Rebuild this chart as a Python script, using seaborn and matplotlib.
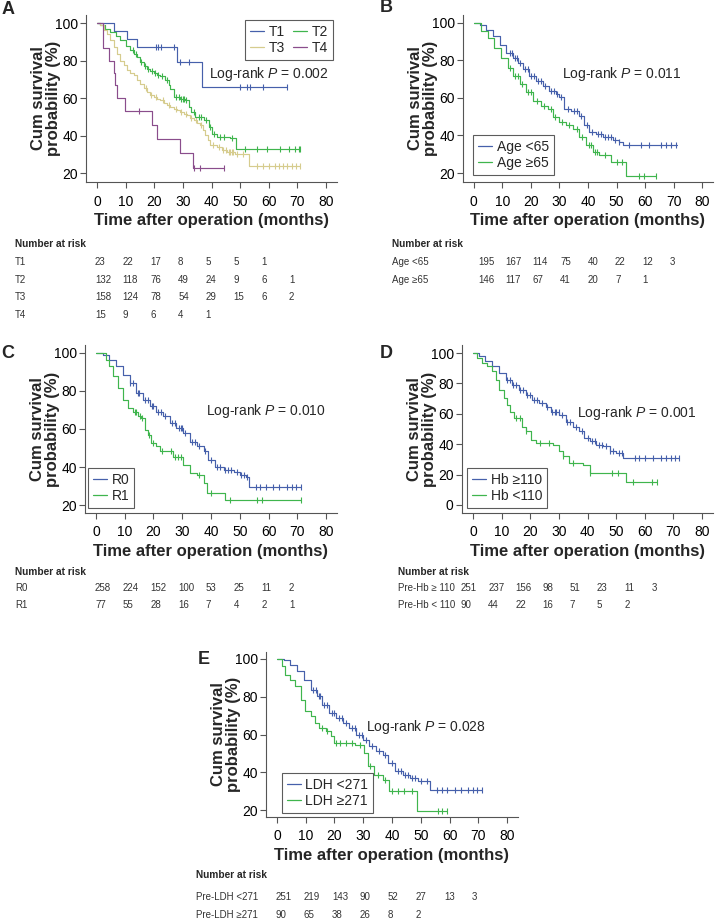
import numpy as np
import pandas as pd
import seaborn as sns
from matplotlib import pyplot as plt
from matplotlib.lines import Line2D

W, H = 717, 919

# ---------------- data ----------------
xticks = [0, 10, 20, 30, 40, 50, 60, 70, 80]

# A: T stage
t1_time = [5.8, 10.5, 14.0, 28.0, 36.7]
t1_surv = [95.7, 91.3, 87.0, 79.1, 65.9]
t1_end = 66.4
t1_cens = [20.5, 21.5, 22.5, 26.8, 29.0, 32.0, 50.0, 52.3, 53.5, 58.0, 66.4]

t2_time = [1.0, 3.0, 4.7, 6.5, 8.2, 10.0, 11.6, 13.0, 14.0, 15.1, 16.3, 17.5, 18.7, 19.8,
           21.0, 22.1, 23.9, 25.0, 25.6, 26.8, 29.1, 30.9, 32.0, 33.0, 34.3, 37.3, 39.0,
           40.2, 41.9, 46.6, 48.5]
t2_surv = [99.2, 97.0, 95.2, 93.0, 90.8, 88.0, 85.4, 83.5, 81.9, 79.2, 77.2, 75.6, 74.2, 73.3,
           72.4, 71.6, 69.4, 67.0, 65.0, 60.5, 59.6, 59.1, 55.2, 52.5, 49.9, 48.1, 44.5,
           41.0, 39.2, 38.8, 32.9]
t2_end = 71.0
t2_cens = [12.5, 13.5, 15.5, 16.8, 18.0, 19.2, 20.2, 21.5, 22.8, 24.5, 27.5, 28.5, 29.5, 30.0,
           30.5, 31.2, 34.0, 35.5, 36.5, 38.2, 39.5, 41.0, 43.0, 44.5, 47.0, 51.8, 55.9, 59.4,
           64.0, 67.0, 69.3, 70.4, 71.0]

t3_time = [1.2, 2.5, 3.5, 4.7, 5.8, 7.0, 8.2, 9.3, 10.5, 11.6, 12.8, 14.0, 15.1, 16.3, 17.5,
           18.7, 19.8, 21.0, 22.1, 23.3, 24.4, 25.6, 26.8, 28.0, 29.1, 30.3, 31.4, 32.6, 33.8,
           35.0, 36.1, 37.0, 37.8, 38.7, 39.6, 41.9, 43.5, 45.4, 48.3, 53.0]
t3_surv = [98.7, 96.5, 94.3, 90.8, 87.2, 83.6, 80.0, 77.4, 74.8, 73.4, 72.1, 69.8, 67.6, 65.4,
           63.2, 61.8, 60.5, 59.6, 58.8, 57.5, 56.1, 55.2, 54.3, 53.4, 52.5, 51.7, 50.8, 49.6,
           48.4, 46.9, 45.4, 43.0, 40.1, 37.5, 34.8, 33.9, 32.5, 31.2, 30.0, 23.7]
t3_end = 71.0
t3_cens = [17.0, 19.0, 20.5, 23.0, 25.0, 27.5, 29.5, 31.0, 33.0, 34.5, 36.5, 40.5, 42.5, 44.0,
           45.0, 46.0, 46.5, 47.0, 47.5, 49.0, 51.0, 56.0, 58.0, 60.0, 62.0, 63.5, 65.0, 66.5,
           68.0, 69.5, 71.0]

t4_time = [2.3, 4.4, 5.8, 6.4, 7.0, 9.9, 19.2, 21.0, 29.1, 33.4]
t4_surv = [86.7, 80.0, 73.3, 66.7, 60.0, 53.3, 45.7, 38.1, 30.5, 22.9]
t4_end = 44.2
t4_cens = [14.6, 33.9, 36.0, 44.2]

# B: age
young_time = [2.0, 4.3, 6.6, 9.0, 11.3, 13.6, 15.4, 17.1, 19.4, 21.8, 24.1, 26.4, 28.8, 29.9,
              31.7, 34.0, 36.9, 38.7, 40.4, 42.7, 45.1, 48.6, 50.9, 52.1]
young_surv = [98.8, 96.1, 92.6, 88.3, 83.9, 80.9, 78.6, 75.1, 71.6, 69.0, 66.4, 63.7, 62.0, 60.2,
              54.1, 53.2, 50.6, 45.4, 41.9, 41.0, 39.2, 37.5, 36.6, 34.9]
young_end = 71.3
young_cens = [12.5, 13.5, 14.5, 15.0, 16.0, 18.0, 19.0, 20.0, 21.0, 22.5, 23.5, 25.0, 27.0, 28.0,
              29.0, 30.5, 33.0, 35.0, 36.0, 37.5, 39.5, 41.5, 43.5, 44.5, 46.0, 47.0, 48.0, 49.5,
              51.0, 54.4, 58.5, 61.4, 65.5, 67.3, 69.0, 70.8]

old_time = [2.6, 4.9, 7.2, 9.6, 11.9, 13.6, 16.0, 18.3, 20.6, 23.6, 25.9, 27.6, 29.9, 32.3,
            34.6, 37.0, 39.3, 41.6, 44.0, 48.2, 53.2]
old_surv = [95.3, 91.8, 86.5, 81.3, 76.0, 71.6, 67.3, 62.9, 58.5, 55.9, 54.1, 49.7, 47.1, 45.4,
            43.6, 39.2, 34.9, 31.3, 29.6, 26.1, 18.7]
old_end = 63.7
old_cens = [12.5, 14.5, 15.5, 17.0, 19.0, 20.0, 22.0, 24.5, 27.0, 28.5, 31.0, 33.5, 36.0, 38.0,
            40.5, 41.0, 42.5, 43.0, 46.0, 50.0, 52.0, 58.0, 59.5, 63.7]

# C: resection margin
r0_time = [2.3, 4.7, 7.0, 9.3, 11.7, 14.0, 16.4, 18.7, 21.0, 23.4, 25.7, 28.0, 30.4, 32.7,
           35.0, 37.4, 39.1, 41.5, 44.4, 47.9, 50.2, 52.0, 53.2]
r0_surv = [99.1, 96.5, 93.0, 88.6, 84.2, 78.9, 75.4, 71.9, 69.2, 66.6, 63.1, 60.5, 57.8, 53.4,
           50.8, 48.2, 43.8, 40.2, 38.5, 37.6, 35.9, 35.0, 29.7]
r0_end = 71.3
r0_cens = [12.0, 13.0, 14.5, 15.0, 17.0, 18.0, 19.5, 20.0, 21.5, 22.5, 24.0, 26.5, 27.5, 29.0,
           29.5, 30.0, 31.0, 33.5, 34.5, 36.0, 38.0, 40.0, 42.0, 43.0, 45.0, 46.0, 47.0, 49.0,
           50.5, 51.5, 52.5, 55.5, 57.0, 59.0, 61.5, 63.5, 66.5, 68.0, 69.5, 71.3]

r1_time = [3.5, 4.7, 5.8, 7.6, 9.3, 11.1, 12.9, 14.6, 15.8, 16.9, 18.1, 19.3, 21.0, 22.2, 26.9,
           30.4, 32.7, 35.0, 37.4, 38.6, 45.0]
r1_surv = [96.5, 93.0, 87.7, 81.5, 75.4, 71.0, 69.2, 66.6, 65.7, 59.6, 56.9, 52.5, 50.8, 48.2,
           45.5, 41.1, 36.7, 35.9, 31.5, 26.2, 22.7]
r1_end = 71.3
r1_cens = [13.5, 14.0, 15.2, 16.0, 18.5, 20.0, 23.0, 26.0, 27.5, 28.5, 29.5, 36.0, 40.0, 46.7,
           56.0, 57.8, 71.3]

# D: haemoglobin
hbhi_time = [2.0, 4.3, 6.7, 9.0, 11.4, 13.7, 16.1, 18.4, 20.8, 23.1, 25.5, 27.2, 30.1, 32.5,
             34.8, 37.2, 38.9, 40.7, 43.0, 45.4, 47.7, 50.1, 52.4]
hbhi_surv = [97.8, 94.5, 91.2, 86.8, 82.4, 79.1, 75.8, 72.5, 69.2, 67.0, 64.8, 61.5, 59.3, 54.9,
             51.6, 48.4, 44.0, 41.8, 39.6, 38.5, 35.2, 34.1, 30.8]
hbhi_end = 71.8
hbhi_cens = [12.0, 13.0, 14.0, 15.0, 16.5, 17.5, 19.0, 20.0, 21.5, 22.5, 24.0, 26.0, 27.5, 28.5,
             29.0, 30.0, 31.0, 33.0, 34.0, 36.0, 38.0, 40.0, 41.5, 42.5, 44.0, 45.0, 46.5, 48.0,
             49.0, 51.0, 52.0, 56.5, 58.0, 60.0, 63.0, 65.5, 67.5, 69.0, 70.5, 71.8]

hblo_time = [1.4, 3.2, 4.9, 6.7, 7.9, 9.0, 10.8, 12.0, 13.1, 14.3, 17.2, 18.4, 20.2, 21.9, 27.8,
             30.1, 31.3, 33.7, 38.4, 40.7, 53.6]
hblo_surv = [96.7, 93.4, 91.2, 87.9, 82.4, 75.8, 70.3, 65.9, 61.5, 57.1, 51.6, 48.4, 42.9, 40.7,
             39.6, 35.2, 31.9, 27.5, 26.4, 20.9, 15.4]
hblo_end = 64.2
hblo_cens = [15.0, 16.5, 18.5, 23.5, 26.5, 31.5, 35.0, 41.0, 48.5, 50.5, 56.0, 62.5, 64.2]

# E: LDH
ldhlo_time = [2.3, 4.7, 7.0, 9.3, 11.7, 14.0, 15.8, 18.1, 20.4, 22.8, 25.1, 27.4, 29.8, 32.1,
              34.5, 36.8, 38.5, 40.9, 43.8, 46.1, 49.1, 53.1]
ldhlo_surv = [99.3, 97.0, 93.5, 89.1, 83.8, 80.2, 75.8, 71.4, 68.8, 66.1, 63.5, 59.9, 57.3, 53.8,
              51.1, 49.4, 44.9, 40.5, 38.8, 37.0, 35.2, 30.8]
ldhlo_end = 71.2
ldhlo_cens = [12.5, 13.5, 14.5, 15.0, 16.5, 17.5, 19.0, 20.0, 21.5, 22.5, 24.0, 26.0, 27.0, 28.5,
              29.5, 31.0, 33.0, 35.5, 37.5, 40.0, 42.0, 43.0, 44.5, 45.5, 47.0, 48.0, 50.0, 52.0,
              55.5, 57.5, 59.0, 62.0, 64.0, 66.5, 68.0, 69.5, 71.2]

ldhhi_time = [1.8, 2.9, 4.7, 6.4, 8.2, 9.9, 11.7, 13.4, 14.6, 16.9, 18.7, 19.9, 27.0, 30.4, 31.5,
              33.9, 36.8, 39.1, 48.7]
ldhhi_surv = [96.1, 91.7, 89.1, 85.5, 78.5, 72.3, 69.6, 66.1, 63.5, 61.7, 59.1, 55.6, 54.6, 50.2,
              43.1, 38.7, 36.1, 30.0, 19.6]
ldhhi_end = 59.0
ldhhi_cens = [15.5, 17.5, 20.5, 22.0, 24.0, 26.0, 29.0, 32.5, 35.0, 37.5, 40.0, 42.0, 44.0, 47.0,
              56.0, 57.5, 59.0]

# numbers at risk (0, 10, 20 ... months)
risk_t1 = [23, 22, 17, 8, 5, 5, 1]
risk_t2 = [132, 118, 76, 49, 24, 9, 6, 1]
risk_t3 = [158, 124, 78, 54, 29, 15, 6, 2]
risk_t4 = [15, 9, 6, 4, 1]
risk_young = [195, 167, 114, 75, 40, 22, 12, 3]
risk_old = [146, 117, 67, 41, 20, 7, 1]
risk_r0 = [258, 224, 152, 100, 53, 25, 11, 2]
risk_r1 = [77, 55, 28, 16, 7, 4, 2, 1]
risk_hbhi = [251, 237, 156, 98, 51, 23, 11, 3]
risk_hblo = [90, 44, 22, 16, 7, 5, 2]
risk_ldhlo = [251, 219, 143, 90, 52, 27, 13, 3]
risk_ldhhi = [90, 65, 38, 26, 8, 2]

BLUE = "#4660ab"
GREEN = "#3fb54d"
TAN = "#d6cc8e"
PURPLE = "#8a4d8c"

sns.set_style("ticks")
plt.rcParams["font.family"] = ["Liberation Sans", "DejaVu Sans"]
plt.rcParams["mathtext.fontset"] = "custom"
plt.rcParams["mathtext.rm"] = "Liberation Sans"
plt.rcParams["mathtext.it"] = "Liberation Sans:italic"
plt.rcParams["axes.edgecolor"] = "#555555"
plt.rcParams["xtick.color"] = "#555555"
plt.rcParams["ytick.color"] = "#555555"
plt.rcParams["xtick.labelcolor"] = "black"
plt.rcParams["ytick.labelcolor"] = "black"

fig = plt.figure(figsize=(W / 100, H / 100), dpi=100)


def km_frame(time, surv, end):
    return pd.DataFrame({"month": [0] + time + [end], "surv": [100] + surv + [surv[-1]]})


def censor_frame(time, surv, cens):
    t = np.array([0] + time)
    s = np.array([100] + surv)
    idx = np.searchsorted(t, cens, side="right") - 1
    return pd.DataFrame({"month": cens, "surv": s[idx]})


def px_axes(x0, y0, x1, y1):
    return fig.add_axes([x0 / W, 1 - y1 / H, (x1 - x0) / W, (y1 - y0) / H])


def draw_panel(box, groups, ylim, yticks, ptext, pxy, leg_loc, leg_anchor, ncol=1, order=None):
    ax = px_axes(*box)
    for name, time, surv, end, cens, color in groups:
        sns.lineplot(data=km_frame(time, surv, end), x="month", y="surv", drawstyle="steps-post",
                     estimator=None, sort=False, color=color, lw=0.85, ax=ax)
        sns.scatterplot(data=censor_frame(time, surv, cens), x="month", y="surv", marker="|",
                        s=14, color=color, linewidth=0.8, ax=ax)
    ax.set_xlim(-3.8, 83.8)
    ax.set_ylim(*ylim)
    ax.set_xticks(xticks)
    ax.set_yticks(yticks)
    sns.despine(ax=ax)
    for sp in ax.spines.values():
        sp.set_linewidth(0.8)
    ax.tick_params(axis="x", length=4, width=0.8, pad=5, labelsize=10)
    ax.tick_params(axis="y", length=4, width=0.8, pad=2, labelsize=10)
    ax.set_xlabel("Time after operation (months)", fontsize=12, fontweight="bold", labelpad=3)
    ax.set_ylabel("Cum survival\nprobability (%)", fontsize=12, fontweight="bold", linespacing=1.0)
    ax.yaxis.set_label_coords(-0.10, 0.5)
    ax.text(pxy[0], pxy[1], "Log-rank $\\mathit{P}$ = " + ptext, fontsize=10, ha="left", va="center")
    handles = [Line2D([], [], color=g[5], lw=0.9) for g in groups]
    labels = [g[0] for g in groups]
    if order is not None:
        handles = [handles[i] for i in order]
        labels = [labels[i] for i in order]
    leg = ax.legend(handles, labels, loc=leg_loc, bbox_to_anchor=leg_anchor, ncol=ncol,
                    fontsize=10, frameon=True, fancybox=False, edgecolor="#333333",
                    handlelength=1.0, handletextpad=0.35, borderpad=0.35, labelspacing=0.15,
                    columnspacing=0.6, borderaxespad=0)
    leg.get_frame().set_linewidth(0.8)
    return ax


def risk_table(label_x, num_x0, dx, y_head, y_rows, names, rows):
    fig.text(label_x / W, 1 - y_head / H, "Number at risk", fontsize=7.3, fontweight="bold",
             ha="left", va="center")
    for y, name, vals in zip(y_rows, names, rows):
        fig.text(label_x / W, 1 - y / H, name, fontsize=7, color="#333333",
                 ha="left", va="center")
        for i, v in enumerate(vals):
            fig.text((num_x0 + i * dx) / W, 1 - y / H, str(v), fontsize=7, color="#333333",
                     ha="left", va="center")


def letter(x, y, s):
    fig.text(x / W, 1 - y / H, s, fontsize=13, fontweight="bold", ha="center", va="center")


yt20 = [20, 40, 60, 80, 100]

# A
draw_panel((86, 15, 337, 182),
           [("T1", t1_time, t1_surv, t1_end, t1_cens, BLUE),
            ("T2", t2_time, t2_surv, t2_end, t2_cens, GREEN),
            ("T3", t3_time, t3_surv, t3_end, t3_cens, TAN),
            ("T4", t4_time, t4_surv, t4_end, t4_cens, PURPLE)],
           (15.2, 104.3), yt20, "0.002", (39, 73), "upper right", (0.984, 0.97),
           ncol=2, order=[0, 2, 1, 3])
letter(8, 9, "A")
risk_table(15, 95, 27.7, 244, [262, 279.5, 297, 314.5], ["T1", "T2", "T3", "T4"],
           [risk_t1, risk_t2, risk_t3, risk_t4])

# B
draw_panel((463, 15, 713, 182),
           [("Age <65", young_time, young_surv, young_end, young_cens, BLUE),
            ("Age \u226565", old_time, old_surv, old_end, old_cens, GREEN)],
           (15.3, 104.0), yt20, "0.011", (31, 72.6), "lower left", (0.04, 0.042))
letter(386, 8, "B")
risk_table(392, 478, 27.4, 244, [262, 279.5], ["Age <65", "Age \u226565"], [risk_young, risk_old])

# C
draw_panel((85, 345, 337, 513),
           [("R0", r0_time, r0_surv, r0_end, r0_cens, BLUE),
            ("R1", r1_time, r1_surv, r1_end, r1_cens, GREEN)],
           (15.8, 104.2), yt20, "0.010", (38.4, 69.5), "lower left", (0.012, 0.03))
letter(8, 354, "C")
risk_table(15, 95, 27.7, 572, [588, 605], ["R0", "R1"], [risk_r0, risk_r1])

# D
draw_panel((462, 345, 713, 513),
           [("Hb \u2265110", hbhi_time, hbhi_surv, hbhi_end, hbhi_cens, BLUE),
            ("Hb <110", hblo_time, hblo_surv, hblo_end, hblo_cens, GREEN)],
           (-5.3, 105.3), [0, 20, 40, 60, 80, 100], "0.001", (36.4, 60.5), "lower left", (0.02, 0.03))
letter(386, 354, "D")
risk_table(398, 461, 27.2, 572, [588, 605], ["Pre-Hb \u2265 110", "Pre-Hb < 110"],
           [risk_hbhi, risk_hblo])

# E
draw_panel((266, 652, 518, 817),
           [("LDH <271", ldhlo_time, ldhlo_surv, ldhlo_end, ldhlo_cens, BLUE),
            ("LDH \u2265271", ldhhi_time, ldhhi_surv, ldhhi_end, ldhhi_cens, GREEN)],
           (16.3, 103.7), yt20, "0.028", (31, 64), "lower left", (0.063, 0.024))
letter(204, 659, "E")
risk_table(196, 276, 28, 875, [897, 915], ["Pre-LDH <271", "Pre-LDH \u2265271"],
           [risk_ldhlo, risk_ldhhi])

fig.savefig("out.png", dpi=100)
